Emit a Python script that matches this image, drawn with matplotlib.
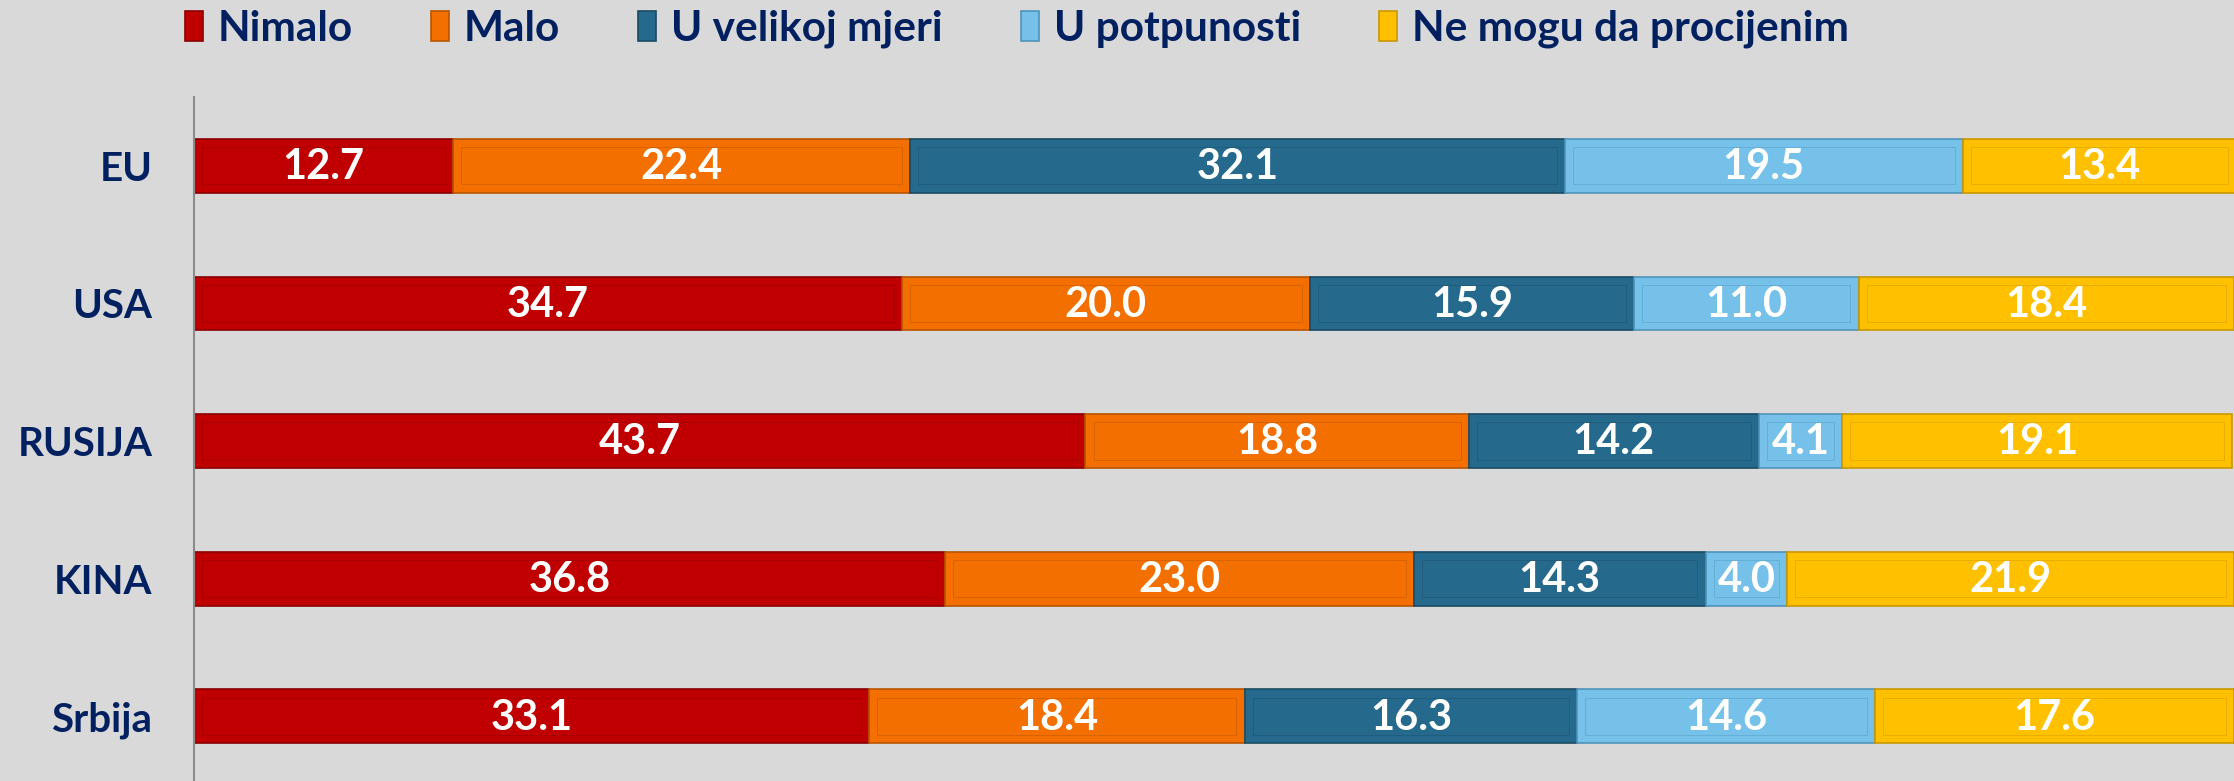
import matplotlib.pyplot as plt
import numpy as np

countries = ["EU", "USA", "RUSIJA", "KINA", "Srbija"]
series = ["Nimalo", "Malo", "U velikoj mjeri", "U potpunosti", "Ne mogu da procijenim"]
nimalo = [12.7, 34.7, 43.7, 36.8, 33.1]
malo = [22.4, 20.0, 18.8, 23.0, 18.4]
u_velikoj = [32.1, 15.9, 14.2, 14.3, 16.3]
u_potpunosti = [19.5, 11.0, 4.1, 4.0, 14.6]
ne_mogu = [13.4, 18.4, 19.1, 21.9, 17.6]

colors = ["#C00000", "#F26F00", "#256A8D", "#76C1E9", "#FFC000"]
edges = ["#8A0000", "#B85400", "#1A4A63", "#4F94BA", "#C99700"]
navy = "#002060"
bg = "#D9D9D9"

plt.rcParams["font.family"] = ["Lato", "DejaVu Sans"]
plt.rcParams["font.weight"] = "bold"

fig = plt.figure(figsize=(22.34, 7.81), dpi=100, facecolor=bg)
ax = fig.add_axes([194 / 2234, 0.0, 1 - 194 / 2234, 1 - 97 / 781])
ax.set_facecolor(bg)

y = np.arange(len(countries))[::-1]
left = np.zeros(len(countries))
for name, vals, c, ec in zip(series, [nimalo, malo, u_velikoj, u_potpunosti, ne_mogu], colors, edges):
    vals = np.array(vals)
    ax.barh(y, vals, left=left, height=0.39, color=c, edgecolor=ec,
            linewidth=1.2, label=name)
    # faint inner outline like the original bevel
    ax.barh(y, vals - 0.8, left=left + 0.4, height=0.27, color="none",
            edgecolor=ec, linewidth=0.6, alpha=0.5)
    for yi, l, v in zip(y, left, vals):
        ax.text(l + v / 2, yi - 0.01, f"{v:.1f}", ha="center", va="center",
                color="white", fontsize=30, fontweight="bold")
    left += vals

ax.set_xlim(0, 100)
ax.set_ylim(-0.47, 4.5)
ax.set_yticks(y)
ax.set_yticklabels(countries, color=navy, fontsize=29, fontweight="bold")
ax.tick_params(axis="y", length=0, pad=30)
ax.set_xticks([])
for s in ["top", "right", "bottom"]:
    ax.spines[s].set_visible(False)
ax.spines["left"].set_color("#8C8C8C")
ax.spines["left"].set_linewidth(1.5)

handles, labels = ax.get_legend_handles_labels()
leg = fig.legend(handles, labels, loc="center left", bbox_to_anchor=(168 / 2234, 1 - 29 / 781),
                 ncol=5, frameon=False, fontsize=30.5, handlelength=0.42, handleheight=0.72,
                 handletextpad=0.35, columnspacing=1.85, borderaxespad=0)
for t in leg.get_texts():
    t.set_color(navy)
    t.set_fontweight("bold")

fig.savefig("out.png", dpi=100, facecolor=bg)
